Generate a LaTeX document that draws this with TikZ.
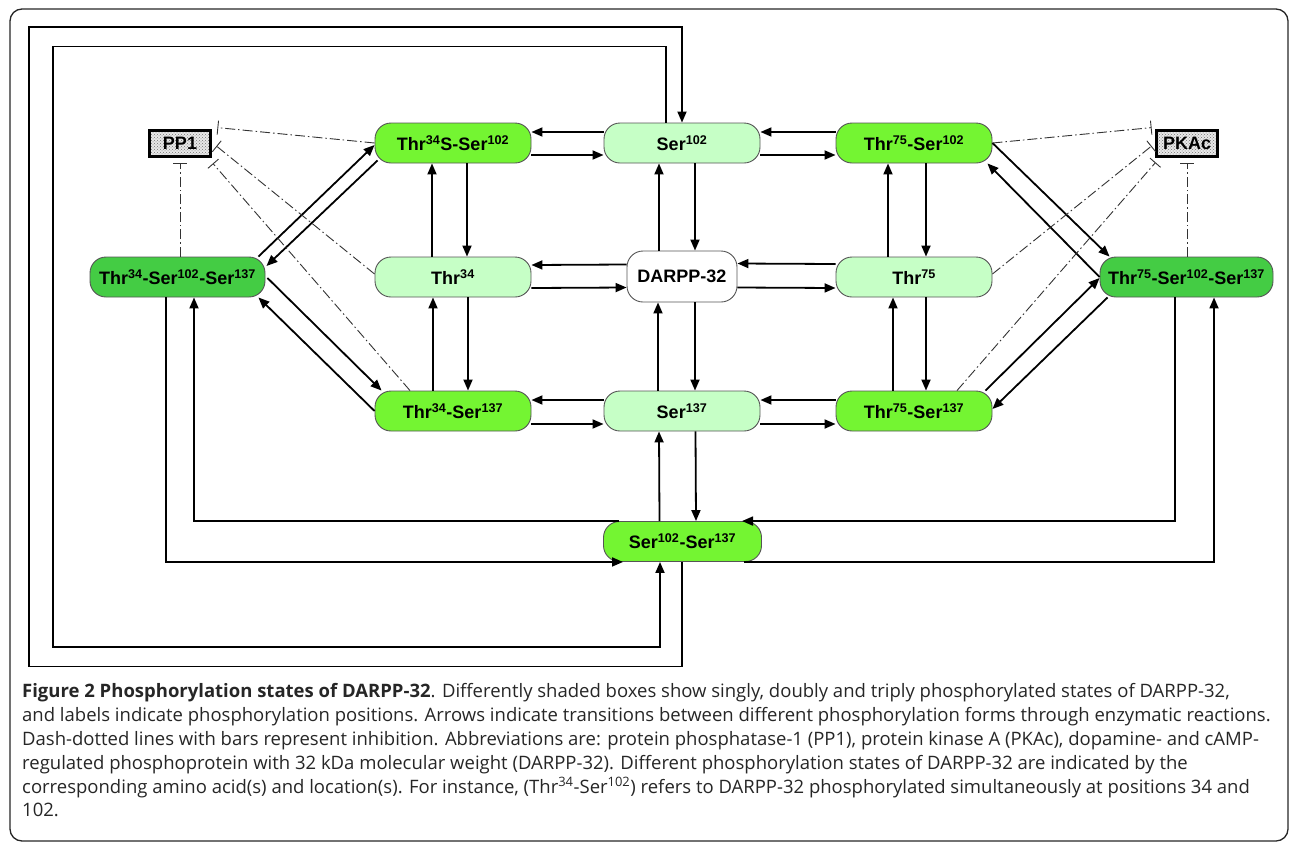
\documentclass[tikz,border=0pt]{standalone}
\usepackage{fontspec}
\setmainfont{Liberation Sans}
\newfontfamily\capfont{Open Sans}
\usetikzlibrary{arrows.meta,patterns}
\definecolor{pale}{RGB}{198,255,198}
\definecolor{lime}{RGB}{116,245,50}
\definecolor{deep}{RGB}{68,204,68}
\definecolor{rim}{RGB}{85,85,85}
\begin{document}
\begin{tikzpicture}[x=1pt,y=-1pt,
    state/.style={draw=rim,line width=0.9pt,rounded corners=16pt,minimum width=156pt,
      minimum height=40pt,inner sep=0pt,font=\fontsize{18}{20}\selectfont\bfseries},
    enzyme/.style={draw=black,line width=2.8pt,minimum width=61pt,minimum height=26pt,
      inner sep=0pt,preaction={fill=gray!18},pattern=crosshatch dots,pattern color=black!55,
      font=\fontsize{18}{20}\selectfont\bfseries},
    arr/.style={line width=1.8pt,-{Triangle[length=11pt,width=9pt]}},
    inh/.style={draw=black!80,line width=0.9pt,dash pattern=on 10pt off 3pt on 1.5pt off 3pt,
      -{Bar[width=14pt,line width=0.9pt]}}]
  \useasboundingbox (0,0) rectangle (1293,844);
  \draw[black!85,line width=1.3pt,rounded corners=12pt] (10,9) rectangle (1288,841);
  \draw
    (453,143) node[state,fill=lime] (t34s102){Thr\textsuperscript{34}S-Ser\textsuperscript{102}}
    (682,143) node[state,fill=pale] (s102){Ser\textsuperscript{102}}
    (914,143) node[state,fill=lime] (t75s102){Thr\textsuperscript{75}-Ser\textsuperscript{102}}
    (177.5,277) node[state,fill=deep,minimum width=175pt] (tl){Thr\textsuperscript{34}-Ser\textsuperscript{102}-Ser\textsuperscript{137}}
    (453,277) node[state,fill=pale] (t34){Thr\textsuperscript{34}}
    (682,276.5) node[state,fill=white,minimum width=110pt,minimum height=51pt] (darpp){DARPP-32}
    (914,277) node[state,fill=pale] (t75){Thr\textsuperscript{75}}
    (1186.5,277) node[state,fill=deep,minimum width=173pt] (tr){Thr\textsuperscript{75}-Ser\textsuperscript{102}-Ser\textsuperscript{137}}
    (453,411) node[state,fill=lime] (t34s137){Thr\textsuperscript{34}-Ser\textsuperscript{137}}
    (682,411) node[state,fill=pale] (s137){Ser\textsuperscript{137}}
    (914,411) node[state,fill=lime] (t75s137){Thr\textsuperscript{75}-Ser\textsuperscript{137}}
    (682.5,541.5) node[state,fill=lime,minimum width=158pt] (ss){Ser\textsuperscript{102}-Ser\textsuperscript{137}}
    (180,143.5) node[enzyme] (pp1){PP1}
    (1187,143.5) node[enzyme] (pkac){PKAc};
  \begin{scope}[arr]
    \draw ([yshift=11]s102.west) to ([yshift=11]t34s102.east);
    \draw ([yshift=-12]t34s102.east) to ([yshift=-12]s102.west);
    \draw ([yshift=11]t75s102.west) to ([yshift=11]s102.east);
    \draw ([yshift=-12]s102.east) to ([yshift=-12]t75s102.west);
    \draw ([yshift=12]darpp.west) to ([yshift=12]t34.east);
    \draw ([yshift=-11]t34.east) to ([yshift=-11]darpp.west);
    \draw ([yshift=13]t75.west) to ([yshift=13]darpp.east);
    \draw ([yshift=-11]darpp.east) to ([yshift=-11]t75.west);
    \draw ([yshift=11]s137.west) to ([yshift=11]t34s137.east);
    \draw ([yshift=-13]t34s137.east) to ([yshift=-13]s137.west);
    \draw ([yshift=11]t75s137.west) to ([yshift=11]s137.east);
    \draw ([yshift=-13]s137.east) to ([yshift=-13]t75s137.west);
    \draw ([xshift=-21]t34.north) to ([xshift=-21]t34s102.south);
    \draw ([xshift=14]t34s102.south) to ([xshift=14]t34.north);
    \draw ([xshift=-20]t34s137.north) to ([xshift=-20]t34.south);
    \draw ([xshift=15]t34.south) to ([xshift=15]t34s137.north);
    \draw ([xshift=-23]darpp.north) to ([xshift=-23]s102.south);
    \draw ([xshift=13]s102.south) to ([xshift=13]darpp.north);
    \draw ([xshift=-24]s137.north) to ([xshift=-24]darpp.south);
    \draw ([xshift=13]darpp.south) to ([xshift=13]s137.north);
    \draw ([xshift=-23]ss.north) to ([xshift=-23]s137.south);
    \draw ([xshift=13.5]s137.south) to ([xshift=13.5]ss.north);
    \draw ([xshift=-26]t75.north) to ([xshift=-26]t75s102.south);
    \draw ([xshift=12]t75s102.south) to ([xshift=12]t75.north);
    \draw ([xshift=-21]t75s137.north) to ([xshift=-21]t75.south);
    \draw ([xshift=12]t75.south) to ([xshift=12]t75s137.north);
    \draw ([xshift=-7]tl.north east) to ([yshift=-2]t34s102.west);
    \draw ([xshift=3,yshift=3]t34s102.south west) to ([xshift=1,yshift=11]tl.east);
    \draw ([xshift=2,yshift=-1]tl.east) to ([xshift=7]t34s137.north west);
    \draw (t34s137.west) to ([xshift=-7]tl.south east);
    \draw (t75s102.east) to ([xshift=10]tr.north west);
    \draw (tr.west) to ([xshift=-5]t75s102.south east);
    \draw ([xshift=-7]t75s137.north east) to ([yshift=-1]tr.west);
    \draw ([xshift=8]tr.south west) to ([yshift=2]t75s137.east);
    \draw ([xshift=-11.5]tl.south) |- ([xshift=-59.5]ss.south);
    \draw ([xshift=-64]ss.north) -| ([xshift=16.5]tl.south);
    \draw ([xshift=-11.5]tr.south) |- ([xshift=59.5]ss.north);
    \draw ([xshift=61]ss.south) -| ([xshift=27.5]tr.south);
    \draw ([xshift=-16]s102.north) -- ++(0,-76) -| (53,647) -| ([xshift=-22.5]ss.south);
    \draw ([xshift=-0.5]ss.south) -- ++(0,104.5) -| (29,27) -| (s102.north);
  \end{scope}
  \begin{scope}[inh]
    \draw (t34s102.west) to ([xshift=5.5,yshift=1.5]pp1.north east);
    \draw ([yshift=3]t34.west) to ([xshift=4.5,yshift=-2.5]pp1.east);
    \draw ([xshift=-43]t34s137.north) to ([xshift=1,yshift=-5.5]pp1.south east);
    \draw ([xshift=2.5]tl.north) to ([yshift=-5.5]pp1.south);
    \draw (t75s102.east) to ([xshift=-3.5,yshift=1.5]pkac.north west);
    \draw ([yshift=3]t75.east) to ([xshift=-3.5,yshift=-2.5]pkac.west);
    \draw ([xshift=43]t75s137.north) to ([xshift=0.5,yshift=-4.5]pkac.south west);
    \draw ([xshift=0.5]tr.north) to ([yshift=-5.5]pkac.south);
  \end{scope}
  \node[anchor=north west,inner sep=0pt,align=left,text=black!85,
    font=\capfont\fontsize{18.5}{23.8}\selectfont] (caption) at (22,683.5)
    {\textbf{Figure 2 Phosphorylation states of DARPP-32}. Differently shaded boxes show singly, doubly and triply phosphorylated states of DARPP-32,\\
     and labels indicate phosphorylation positions. Arrows indicate transitions between different phosphorylation forms through enzymatic reactions.\\
     Dash-dotted lines with bars represent inhibition. Abbreviations are: protein phosphatase-1 (PP1), protein kinase A (PKAc), dopamine- and cAMP-\\
     regulated phosphoprotein with 32 kDa molecular weight (DARPP-32). Different phosphorylation states of DARPP-32 are indicated by the\\
     corresponding amino acid(s) and location(s). For instance, (Thr\textsuperscript{34}-Ser\textsuperscript{102}) refers to DARPP-32 phosphorylated simultaneously at positions 34 and\\
     102.};
\end{tikzpicture}
\end{document}
